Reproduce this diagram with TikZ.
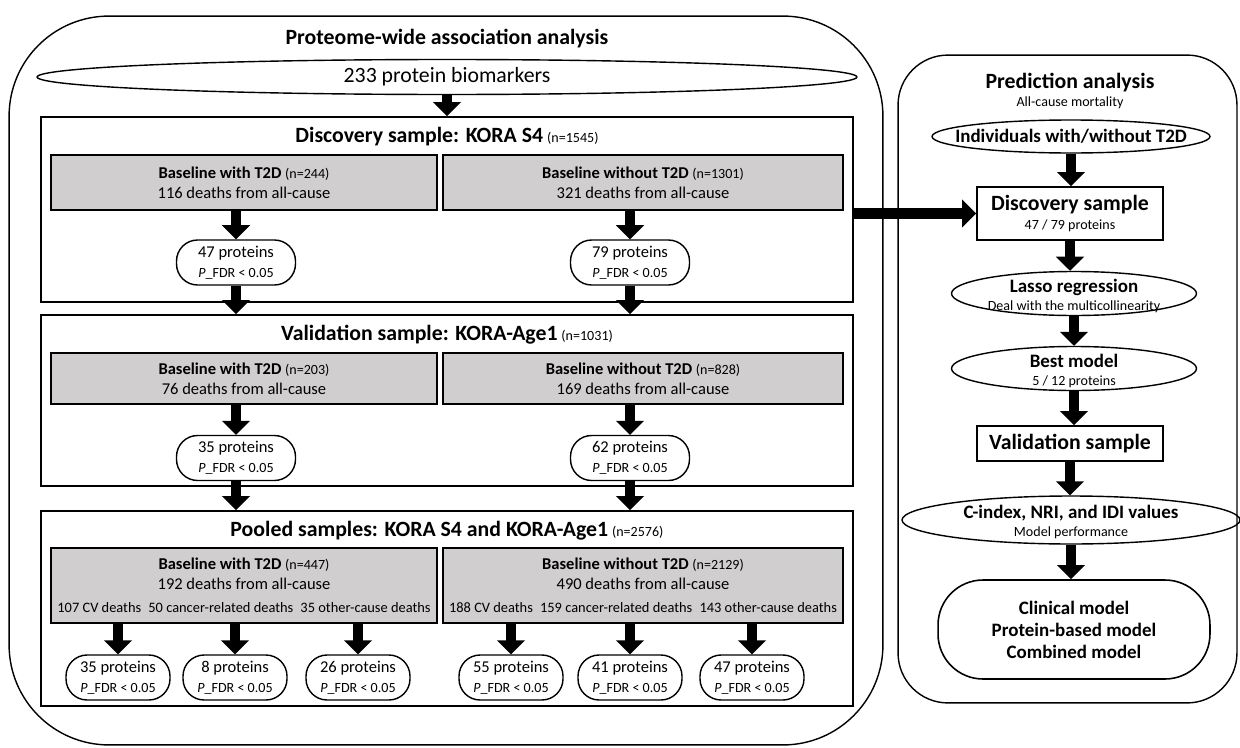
\documentclass[tikz,border=0pt]{standalone}
\usepackage{fontspec}
\setmainfont{Carlito}
\usetikzlibrary{arrows.meta,shapes.geometric}
\definecolor{boxgray}{HTML}{D0CECE}
\newcommand\ttlsize{\fontsize{12.4}{14}\selectfont}
\newcommand\rgtsize{\fontsize{10.8}{12.5}\selectfont}
\newcommand\txtsize{\fontsize{9.4}{11.3}\selectfont}
\newcommand\smlsize{\fontsize{8}{9.5}\selectfont}
\newcommand\pfdr{{\smlsize\textit{P}\_FDR < 0.05}}

\begin{document}
\begin{tikzpicture}[x=0.02cm, y=-0.02cm,
	panelbox/.style={draw, line width=0.8pt, rounded corners=#1, inner sep=0pt},
	samplebox/.style={draw, line width=0.9pt, inner sep=0pt},
	graybox/.style={draw, line width=0.9pt, fill=boxgray, inner sep=0pt, align=center, font=\txtsize},
	protbox/.style={draw, line width=0.8pt, rounded corners=12pt, minimum width=2.38cm, minimum height=0.9cm, inner sep=0pt, align=center, font=\txtsize},
	ovalbox/.style={draw, ellipse, line width=0.8pt, inner sep=0pt},
	flowarrow/.style={line width=6pt, -{Triangle[width=15.5pt,length=8pt]}}]
	\useasboundingbox (0,0) rectangle (1240,747);
	%\draw [help lines, step=100] (0,0) grid (1240,747);

	% proteome-wide association analysis
	\node[panelbox=2cm, minimum width=17.48cm, minimum height=14.58cm] (pwas) at (446,380.5) {};
	\node[font=\ttlsize\bfseries] (pwastitle) at (447,39) {Proteome-wide association analysis};
	\node[ovalbox, minimum width=16.4cm, minimum height=0.7cm] (bio) at (447,77) {};
	\node[font=\ttlsize] (biotext) at (bio) {233 protein biomarkers};

	\node[samplebox, minimum width=16.24cm, minimum height=3.7cm] (disc) at (447,209.5) {};
	\node (disctitle) at (447,137) {{\ttlsize\bfseries Discovery sample: KORA S4} {\smlsize(n=1545)}};
	\node[graybox, minimum width=7.72cm, minimum height=1.1cm] (dwith) at (244,182.5) {\textbf{Baseline with T2D} {\smlsize(n=244)}\\116 deaths from all-cause};
	\node[graybox, minimum width=8cm, minimum height=1.1cm] (dwithout) at (643,182.5) {\textbf{Baseline without T2D} {\smlsize(n=1301)}\\321 deaths from all-cause};
	\node[protbox] (dpwith) at (236,262.5) {47 proteins\\\pfdr};
	\node[protbox] (dpwithout) at (630,262.5) {79 proteins\\\pfdr};

	\node[samplebox, minimum width=16.24cm, minimum height=3.42cm] (vali) at (447,400.5) {};
	\node (valititle) at (447,335) {{\ttlsize\bfseries Validation sample: KORA-Age1} {\smlsize(n=1031)}};
	\node[graybox, minimum width=7.72cm, minimum height=1.02cm] (vwith) at (244,378.5) {\textbf{Baseline with T2D} {\smlsize(n=203)}\\76 deaths from all-cause};
	\node[graybox, minimum width=8cm, minimum height=1.02cm] (vwithout) at (643,378.5) {\textbf{Baseline without T2D} {\smlsize(n=828)}\\169 deaths from all-cause};
	\node[protbox] (vpwith) at (236,458) {35 proteins\\\pfdr};
	\node[protbox] (vpwithout) at (630,458) {62 proteins\\\pfdr};

	\node[samplebox, minimum width=16.24cm, minimum height=3.9cm] (pool) at (447,608.5) {};
	\node (pooltitle) at (447,531) {{\ttlsize\bfseries Pooled samples: KORA S4 and KORA-Age1} {\smlsize(n=2576)}};
	\node[graybox, minimum width=7.72cm, minimum height=1.5cm] (pwith) at (244,585.5) {\textbf{Baseline with T2D} {\smlsize(n=447)}\\192 deaths from all-cause\\[2pt]{\fontsize{8.2}{9.5}\selectfont 107 CV deaths\enspace 50 cancer-related deaths\enspace 35 other-cause deaths}};
	\node[graybox, minimum width=8cm, minimum height=1.5cm] (pwithout) at (643,585.5) {\textbf{Baseline without T2D} {\smlsize(n=2129)}\\490 deaths from all-cause\\[2pt]{\fontsize{8.2}{9.5}\selectfont 188 CV deaths\enspace 159 cancer-related deaths\enspace 143 other-cause deaths}};
	\node[protbox, minimum width=2.08cm] (ppwcv) at (118,677.5) {35 proteins\\\pfdr};
	\node[protbox, minimum width=2.08cm] (ppwca) at (235,677.5) {8 proteins\\\pfdr};
	\node[protbox, minimum width=2.08cm] (ppwot) at (358,677.5) {26 proteins\\\pfdr};
	\node[protbox, minimum width=2.08cm] (ppocv) at (511,677.5) {55 proteins\\\pfdr};
	\node[protbox, minimum width=2.08cm] (ppoca) at (630,677.5) {41 proteins\\\pfdr};
	\node[protbox, minimum width=2.08cm] (ppoot) at (752,677.5) {47 proteins\\\pfdr};

	% prediction analysis
	\node[panelbox=1cm, minimum width=6.78cm, minimum height=12.96cm] (pred) at (1067.5,379) {};
	\node[font=\ttlsize\bfseries] (predtitle) at (1070,83) {Prediction analysis};
	\node[font=\smlsize] (predsub) at (1070,103) {All-cause mortality};
	\node[ovalbox, minimum width=5.56cm, minimum height=0.66cm] (indiv) at (1071,136.5) {};
	\node[font=\rgtsize\bfseries] (indivtext) at (indiv) {Individuals with/without T2D};
	\node[samplebox, minimum width=3.72cm, minimum height=1.06cm, align=center, font=\ttlsize] (rdisc) at (1070,213.5) {\textbf{Discovery sample}\\[-3pt]{\smlsize 47 / 79 proteins}};
	\node[ovalbox, minimum width=4.9cm, minimum height=0.88cm] (lasso) at (1074,293.5) {};
	\node[align=center, font=\rgtsize] (lassotext) at (1074,296) {\textbf{Lasso regression}\\[-2pt]{\smlsize Deal with the multicollinearity}};
	\node[ovalbox, minimum width=4.9cm, minimum height=0.88cm] (best) at (1074,368.5) {};
	\node[align=center, font=\rgtsize] (besttext) at (1074,371) {\textbf{Best model}\\[-2pt]{\smlsize 5 / 12 proteins}};
	\node[samplebox, minimum width=3.72cm, minimum height=0.7cm] (rvali) at (1070,443.5) {\ttlsize\bfseries Validation sample};
	\node[ovalbox, minimum width=6.76cm, minimum height=0.96cm] (cidx) at (1071,520) {};
	\node[align=center, font=\rgtsize] (cidxtext) at (1071,522) {\textbf{C-index, NRI, and IDI values}\\[-2pt]{\smlsize Model performance}};
	\node[samplebox, rounded corners=0.9cm, minimum width=5.44cm, minimum height=1.98cm, align=center, font=\rgtsize\bfseries] (models) at (1074,629.5) {Clinical model\\Protein-based model\\Combined model};

	% arrows
	\draw[flowarrow] (bio.south) -- (disc.north);
	\draw[flowarrow] (dwith.south -| dpwith) -- (dpwith.north);
	\draw[flowarrow] (dwithout.south -| dpwithout) -- (dpwithout.north);
	\draw[flowarrow] (dpwith.south) -- (dpwith.south |- vali.north);
	\draw[flowarrow] (dpwithout.south) -- (dpwithout.south |- vali.north);
	\draw[flowarrow] (vwith.south -| vpwith) -- (vpwith.north);
	\draw[flowarrow] (vwithout.south -| vpwithout) -- (vpwithout.north);
	\draw[flowarrow] (vpwith.south) -- (vpwith.south |- pool.north);
	\draw[flowarrow] (vpwithout.south) -- (vpwithout.south |- pool.north);
	\foreach \p in {ppwcv,ppwca,ppwot}
		\draw[flowarrow] (pwith.south -| \p) -- (\p.north);
	\foreach \p in {ppocv,ppoca,ppoot}
		\draw[flowarrow] (pwithout.south -| \p) -- (\p.north);
	\draw[flowarrow] (disc.east |- rdisc.west) -- (rdisc.west);
	\draw[flowarrow] (indiv.south) -- (indiv.south |- rdisc.north);
	\draw[flowarrow] (rdisc.south) -- (rdisc.south |- lasso.north);
	\draw[flowarrow] (lasso.south) -- (lasso.south |- best.north);
	\draw[flowarrow] (best.south) -- (best.south |- rvali.north);
	\draw[flowarrow] (rvali.south) -- (rvali.south |- cidx.north);
	\draw[flowarrow] (cidx.south) -- (cidx.south |- models.north);
\end{tikzpicture}
\end{document}
